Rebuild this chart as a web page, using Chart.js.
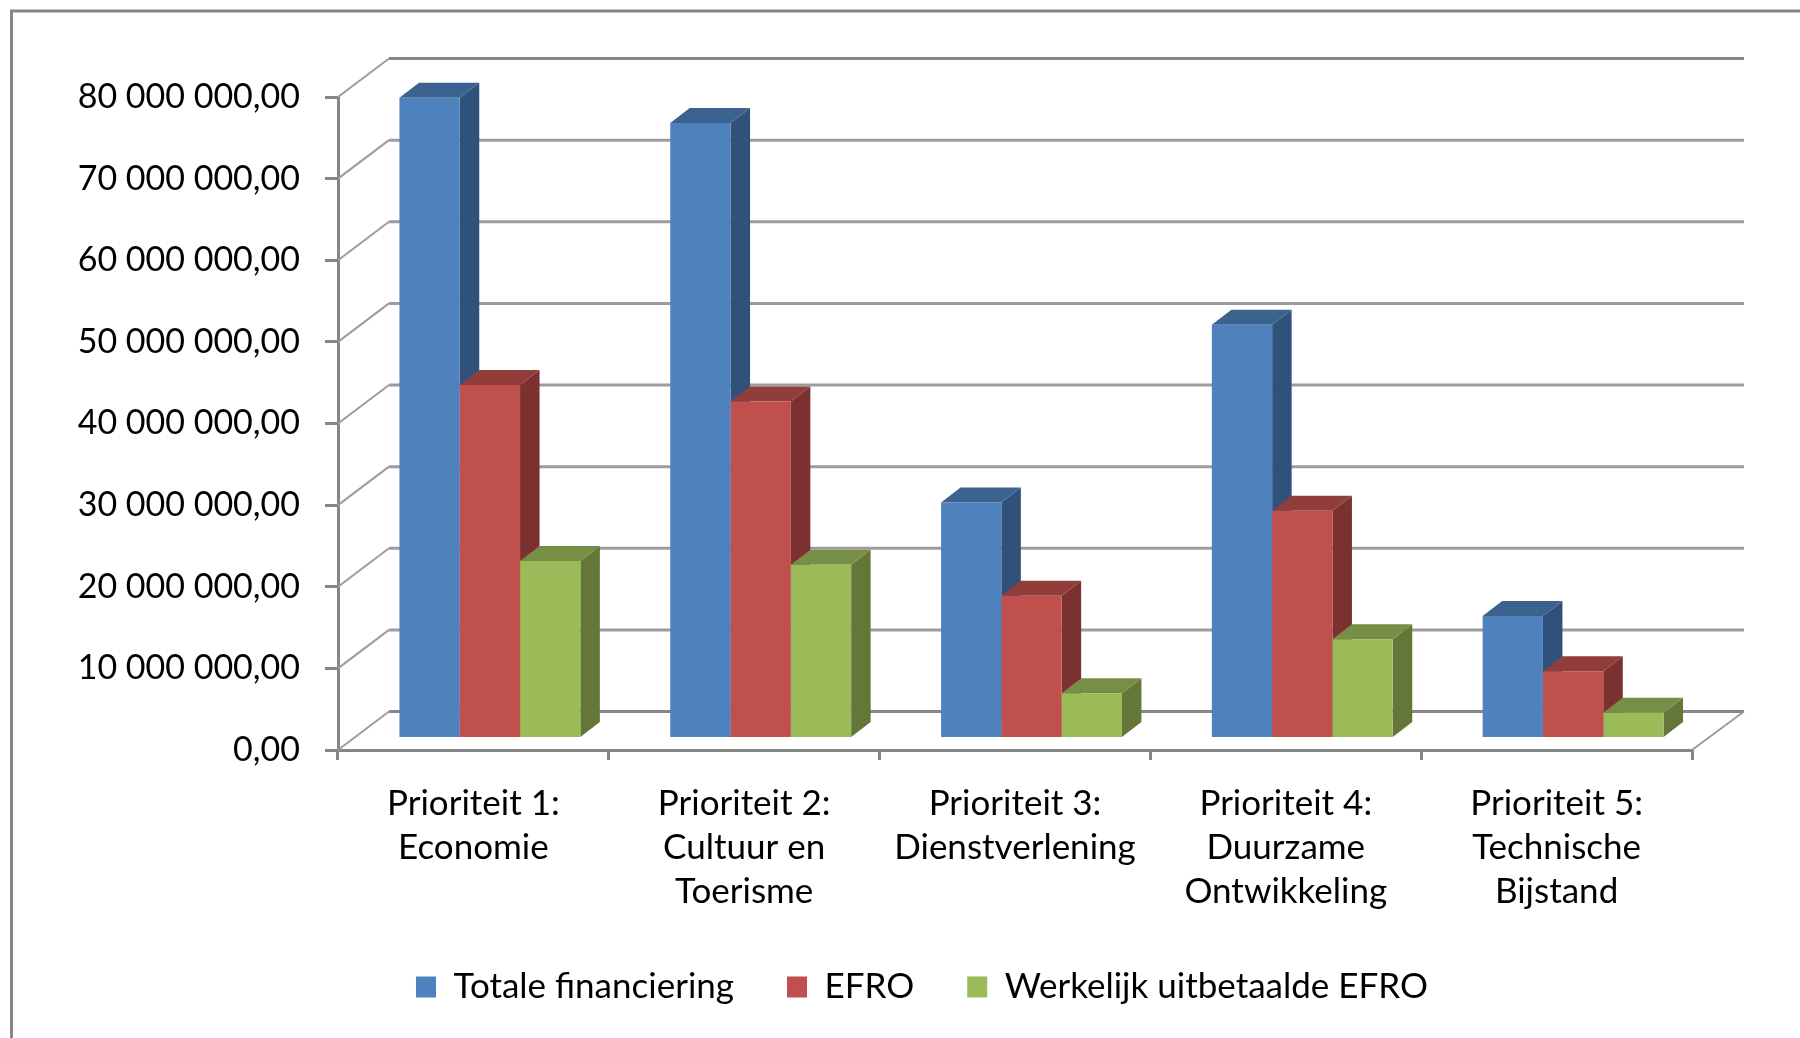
<!DOCTYPE html>
<html>
<head>
<meta charset="utf-8">
<style>html,body{margin:0;padding:0;background:#fff;overflow:hidden}canvas{display:block;filter:blur(0.5px)}</style>
<script src="https://cdn.jsdelivr.net/npm/chart.js@4/dist/chart.umd.min.js"></script>
</head>
<body>
<canvas id="c" width="1800" height="1038"></canvas>
<script>
const categories = [
  ["Prioriteit 1:", "Economie"],
  ["Prioriteit 2:", "Cultuur en", "Toerisme"],
  ["Prioriteit 3:", "Dienstverlening"],
  ["Prioriteit 4:", "Duurzame", "Ontwikkeling"],
  ["Prioriteit 5:", "Technische", "Bijstand"]
];
const seriesNames = ["Totale financiering", "EFRO", "Werkelijk uitbetaalde EFRO"];
const totaleFinanciering = [78500000, 75400000, 28900000, 50700000, 15000000];
const efro = [43300000, 41300000, 17500000, 27900000, 8250000];
const uitbetaald = [21750000, 21300000, 5550000, 12150000, 3150000];
const axisMax = 80000000;
const axisStep = 10000000;

const FONT = 'Lato, Carlito, sans-serif';
const AXIS = '#868686', GRID = '#9c9c9c';
const shade = {
  '#4F81BD': {side: '#30527A', top: '#3C628F'},
  '#C0504D': {side: '#7B3130', top: '#913E3B'},
  '#9BBB59': {side: '#647739', top: '#778F45'}
};
const WALL_DX = 52, WALL_DY = 38.5;     // depth of the chart box
const BAR_DX = 19.5, BAR_DY = 15;       // depth of a bar
const SHIFT_X = 16.5, SHIFT_Y = -11.5;  // bars stand in the middle of the floor

function money(v) {
  const s = String(Math.round(v));
  return s.replace(/\B(?=(\d{3})+(?!\d))/g, ' ') + ',00';
}

const frame3d = {
  id: 'frame3d',
  afterLayout(chart) {
    const l = chart.legend;
    l.left += 76; l.right += 76; l.top -= 23.5; l.bottom -= 23.5;
  },
  beforeDraw(chart) {
    const c = chart.ctx;
    c.save();
    c.strokeStyle = AXIS; c.lineWidth = 3;
    c.beginPath(); c.moveTo(11.5, 1038); c.lineTo(11.5, 11); c.lineTo(1800, 11); c.stroke();
    c.restore();
  },
  beforeDatasetsDraw(chart) {
    const c = chart.ctx, y = chart.scales.y, x = chart.scales.x;
    const L = x.left, R = x.right;
    c.save();
    c.lineCap = 'butt';
    y.ticks.forEach(t => {
      const py = y.getPixelForValue(t.value);
      const edge = t.value === 0 || t.value === axisMax;
      c.strokeStyle = edge ? AXIS : GRID;
      c.lineWidth = 3;
      c.beginPath();
      c.moveTo(L + WALL_DX - 1, py - WALL_DY);
      c.lineTo(R + WALL_DX, py - WALL_DY);
      c.stroke();
      c.strokeStyle = GRID;
      c.lineWidth = 2;
      c.beginPath();
      c.moveTo(L, py);
      c.lineTo(L + WALL_DX - 1, py - WALL_DY);
      c.stroke();
    });
    const p0 = y.getPixelForValue(0);
    c.beginPath();
    c.moveTo(R, p0);
    c.lineTo(R + WALL_DX, p0 - WALL_DY);
    c.stroke();
    c.restore();

    // side and top faces, first series first, so each one overlaps the previous
    c.save();
    c.translate(SHIFT_X, SHIFT_Y);
    chart.data.datasets.forEach((ds, i) => {
      const col = shade[ds.backgroundColor];
      chart.getDatasetMeta(i).data.forEach(el => {
        const r = el.x + el.width / 2, l = el.x - el.width / 2;
        c.fillStyle = col.side;
        c.beginPath();
        c.moveTo(r, el.y); c.lineTo(r + BAR_DX, el.y - BAR_DY);
        c.lineTo(r + BAR_DX, el.base - BAR_DY); c.lineTo(r, el.base);
        c.closePath(); c.fill();
        c.fillStyle = col.top;
        c.beginPath();
        c.moveTo(l, el.y); c.lineTo(l + BAR_DX, el.y - BAR_DY);
        c.lineTo(r + BAR_DX, el.y - BAR_DY); c.lineTo(r, el.y);
        c.closePath(); c.fill();
      });
    });
    c.restore();
  },
  beforeDatasetDraw(chart) {
    chart.ctx.save();
    chart.ctx.translate(SHIFT_X, SHIFT_Y);
  },
  afterDatasetDraw(chart) {
    chart.ctx.restore();
  }
};

new Chart(document.getElementById('c'), {
  type: 'bar',
  plugins: [frame3d],
  data: {
    labels: categories,
    datasets: [
      {label: seriesNames[0], data: totaleFinanciering, backgroundColor: '#4F81BD', clip: false},
      {label: seriesNames[1], data: efro, backgroundColor: '#C0504D', clip: false},
      {label: seriesNames[2], data: uitbetaald, backgroundColor: '#9BBB59', clip: false}
    ]
  },
  options: {
    responsive: false,
    animation: false,
    devicePixelRatio: 1,
    categoryPercentage: 0.668,
    barPercentage: 1,
    layout: {padding: {top: 97, right: 108, bottom: 0, left: 0}},
    plugins: {
      tooltip: {enabled: false},
      title: {display: false},
      legend: {
        position: 'bottom',
        labels: {
          color: '#000',
          boxWidth: 20,
          boxHeight: 21,
          padding: 53,
          font: {family: FONT, size: 35}
        }
      }
    },
    scales: {
      x: {
        afterFit(s) { s.height = 190; },
        border: {color: AXIS, width: 3},
        grid: {drawOnChartArea: false, color: AXIS, lineWidth: 3, tickLength: 10, offset: true},
        ticks: {
          color: '#000', autoSkip: false, maxRotation: 0, minRotation: 0, padding: 22,
          font: {family: FONT, size: 35, lineHeight: '44px'}
        }
      },
      y: {
        min: 0, max: axisMax,
        afterFit(s) { s.width = 338; },
        border: {color: AXIS, width: 3},
        grid: {drawOnChartArea: false, color: AXIS, lineWidth: 3, tickLength: 13},
        ticks: {
          color: '#000', stepSize: axisStep, padding: 25,
          font: {family: FONT, size: 34},
          callback: v => money(v)
        }
      }
    }
  }
});
</script>
</body>
</html>
